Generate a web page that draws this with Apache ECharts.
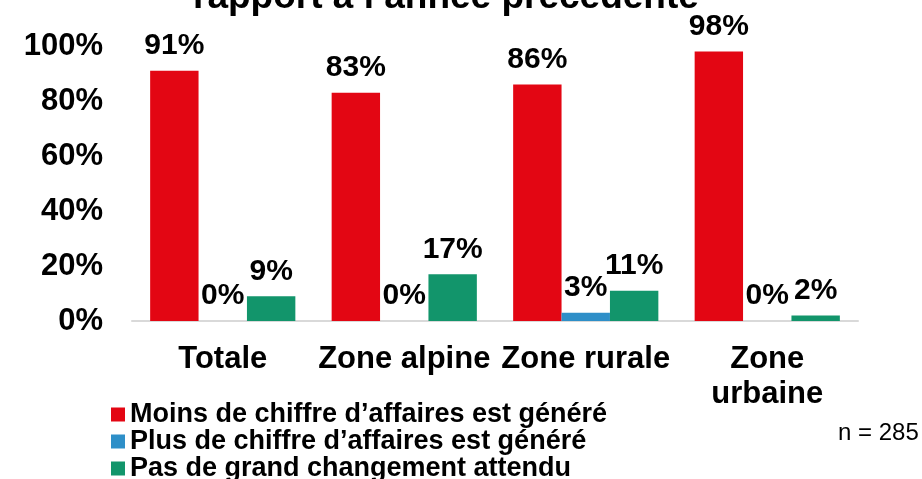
<!DOCTYPE html>
<html>
<head>
<meta charset="utf-8">
<script src="https://cdn.jsdelivr.net/npm/echarts@6/dist/echarts.min.js"></script>
<style>
  html, body { margin: 0; padding: 0; background: #fff; }
  #chart { width: 922px; height: 479px; }
</style>
</head>
<body>
<div id="chart"></div>
<script>
const categories = ['Totale', 'Zone alpine', 'Zone rurale', 'Zone\nurbaine'];
const seriesNames = [
  'Moins de chiffre d’affaires est généré',
  'Plus de chiffre d’affaires est généré',
  'Pas de grand changement attendu'
];
const moins = [91, 83, 86, 98];
const plus = [0, 0, 3, 0];
const pasChangement = [9, 17, 11, 2];
const colors = ['#E30613', '#2E8FC8', '#12956B'];

const font = "'Liberation Sans', Arial, sans-serif";

const chart = echarts.init(document.getElementById('chart'));

const label = {
  show: true,
  position: 'top',
  distance: 10,
  formatter: '{c}%',
  color: '#000',
  fontFamily: font,
  fontWeight: 'bold',
  fontSize: 30
};

const options = {
  animation: false,
  title: {
    text: 'rapport à l’année précédente',
    left: 188,
    top: -26,
    textStyle: { fontFamily: font, fontWeight: 'bold', fontSize: 37, color: '#000' }
  },
  grid: { left: 132, right: 64, top: 46, bottom: 158 },
  legend: {
    orient: 'vertical',
    left: 106,
    top: 396,
    height: 84,
    icon: 'rect',
    itemWidth: 14,
    itemHeight: 14,
    itemGap: 0,
    textStyle: { fontFamily: font, fontWeight: 'bold', fontSize: 27, lineHeight: 27, color: '#000' },
    data: seriesNames
  },
  xAxis: {
    type: 'category',
    data: categories,
    axisLine: { lineStyle: { color: '#D9D9D9', width: 2 } },
    axisTick: { show: false },
    axisLabel: {
      color: '#000',
      fontFamily: font,
      fontWeight: 'bold',
      fontSize: 31,
      margin: 21,
      lineHeight: 35,
      interval: 0
    }
  },
  yAxis: {
    type: 'value',
    min: 0,
    max: 100,
    interval: 20,
    axisLine: { show: false },
    axisTick: { show: false },
    splitLine: { show: false },
    axisLabel: {
      formatter: '{value}%',
      color: '#000',
      fontFamily: font,
      fontWeight: 'bold',
      fontSize: 31,
      margin: 29
    }
  },
  graphic: [{
    type: 'text',
    left: 838,
    top: 421,
    style: { text: 'n = 285', fill: '#000', font: "24px 'Liberation Sans', Arial, sans-serif" }
  }],
  series: [
    { name: seriesNames[0], type: 'bar', data: moins, itemStyle: { color: colors[0] }, label, barGap: '0%', barCategoryGap: '20%' },
    { name: seriesNames[1], type: 'bar', data: plus, itemStyle: { color: colors[1] }, label, barGap: '0%', barCategoryGap: '20%' },
    { name: seriesNames[2], type: 'bar', data: pasChangement, itemStyle: { color: colors[2] }, label, barGap: '0%', barCategoryGap: '20%' }
  ]
};

chart.setOption(options);
</script>
</body>
</html>
